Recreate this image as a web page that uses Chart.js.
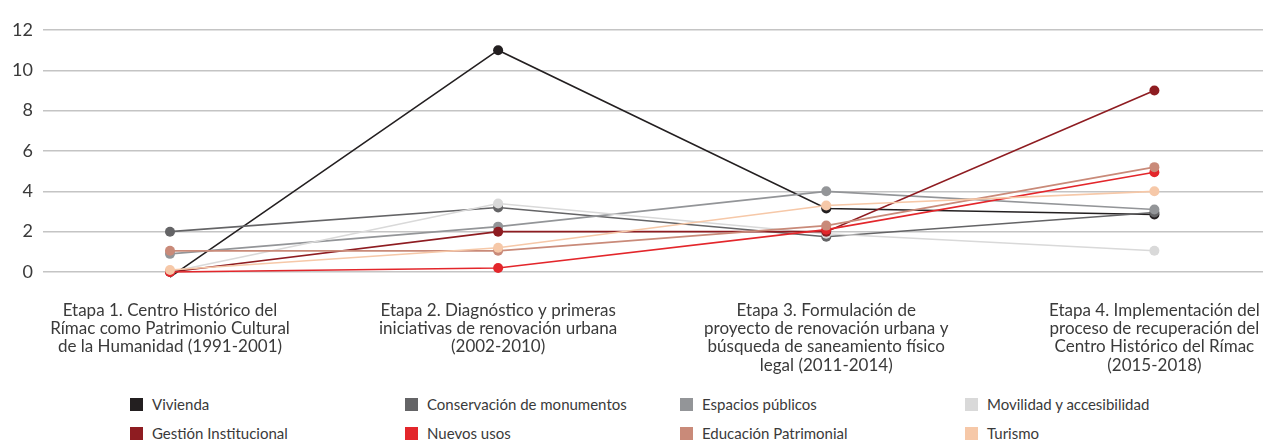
<!DOCTYPE html>
<html>
<head>
<meta charset="utf-8">
<script src="https://cdn.jsdelivr.net/npm/chart.js@4.4.1/dist/chart.umd.min.js"></script>
<style>
  html, body { margin: 0; padding: 0; background: #ffffff; }
  #wrap { position: relative; width: 1268px; height: 443px; overflow: hidden; font-family: Lato, "Open Sans", sans-serif; }
  #chartBox { position: absolute; left: 0; top: 0; width: 1268px; height: 385px; }
  #legend { position: absolute; left: 0; top: 390px; width: 1268px; height: 53px; }
  .item { position: absolute; display: flex; align-items: center; font-size: 15px; color: #3a3a3a; white-space: nowrap; }
  .sw { width: 13px; height: 13px; margin-right: 9px; }
</style>
</head>
<body>
<div id="wrap">
  <div id="chartBox"><canvas id="c"></canvas></div>
  <div id="legend"></div>
</div>
<script>
// ---- Data ----
const categories = [
  ["Etapa 1. Centro Histórico del", "Rímac como Patrimonio Cultural", "de la Humanidad (1991-2001)"],
  ["Etapa 2. Diagnóstico y primeras", "iniciativas de renovación urbana", "(2002-2010)"],
  ["Etapa 3. Formulación de", "proyecto de renovación urbana y", "búsqueda de saneamiento físico", "legal (2011-2014)"],
  ["Etapa 4. Implementación del", "proceso de recuperación del", "Centro Histórico del Rímac", "(2015-2018)"]
];
const seriesNames = [
  "Vivienda", "Conservación de monumentos", "Espacios públicos", "Movilidad y accesibilidad",
  "Gestión Institucional", "Nuevos usos", "Educación Patrimonial", "Turismo"
];
const vivienda      = [-0.25, 11, 3.15, 2.85];
const conservacion  = [2, 3.2, 1.75, 2.95];
const espacios      = [0.9, 2.25, 4, 3.1];
const movilidad     = [0, 3.4, 1.9, 1.05];
const gestion       = [0, 2, 2, 9];
const nuevosUsos    = [0, 0.2, 2.1, 4.95];
const educacion     = [1.05, 1.05, 2.3, 5.2];
const turismo       = [0.1, 1.2, 3.3, 4];
const seriesValues = [vivienda, conservacion, espacios, movilidad, gestion, nuevosUsos, educacion, turismo];
const seriesColors = ["#231f20", "#646466", "#939598", "#d9d9d9", "#8e1c21", "#e3262b", "#c98a79", "#f6c8a8"];
const yTicks = [0, 2, 4, 6, 8, 10, 12];

const datasets = seriesNames.map((name, i) => ({
  label: name,
  data: seriesValues[i].map((v, k) => ({ x: k, y: v })),
  borderColor: seriesColors[i],
  backgroundColor: seriesColors[i],
  pointBackgroundColor: seriesColors[i],
  pointBorderColor: seriesColors[i],
  borderWidth: 1.6,
  pointRadius: 5,
  pointBorderWidth: 0,
  pointHoverRadius: 5,
  tension: 0,
  clip: false,
  order: seriesNames.length - i
}));

const chart = new Chart(document.getElementById('c'), {
  type: 'line',
  data: { datasets },
  options: {
    responsive: true,
    maintainAspectRatio: false,
    animation: false,
    events: [],
    layout: { padding: { top: 30, right: 0, left: 0, bottom: 0 } },
    plugins: { legend: { display: false }, tooltip: { enabled: false }, title: { display: false } },
    scales: {
      x: {
        type: 'linear',
        min: -0.387,
        max: 3.331,
        afterBuildTicks: (axis) => { axis.ticks = categories.map((_, i) => ({ value: i })); },
        afterFit: (axis) => { axis.height = 113; axis.paddingLeft = 0; axis.paddingRight = 0; },
        grid: { display: false, drawTicks: false },
        border: { display: false },
        ticks: {
          autoSkip: false,
          maxRotation: 0,
          minRotation: 0,
          padding: 29,
          color: '#3a3a3a',
          font: { family: 'Lato, "Open Sans", sans-serif', size: 17, lineHeight: 1.08 },
          callback: (v) => categories[v]
        }
      },
      y: {
        min: 0,
        max: 12,
        afterBuildTicks: (axis) => { axis.ticks = yTicks.map(v => ({ value: v })); },
        afterFit: (axis) => { axis.width = 43; },
        grid: { color: '#c4c4c4', lineWidth: 1.6, drawTicks: false },
        border: { display: false },
        ticks: {
          padding: 10,
          color: '#3a3a3a',
          font: { family: 'Lato, "Open Sans", sans-serif', size: 18 }
        }
      }
    }
  }
});

// ---- Legend (built from chart datasets) ----
const colX = [130, 405, 680, 965];
const rowY = [14, 43];
const legend = document.getElementById('legend');
chart.data.datasets.forEach((ds, i) => {
  const el = document.createElement('div');
  el.className = 'item';
  el.style.left = colX[i % 4] + 'px';
  el.style.top = (rowY[Math.floor(i / 4)] - 9) + 'px';
  const sw = document.createElement('span');
  sw.className = 'sw';
  sw.style.background = ds.borderColor;
  const tx = document.createElement('span');
  tx.textContent = ds.label;
  el.appendChild(sw); el.appendChild(tx);
  legend.appendChild(el);
});
</script>
</body>
</html>
